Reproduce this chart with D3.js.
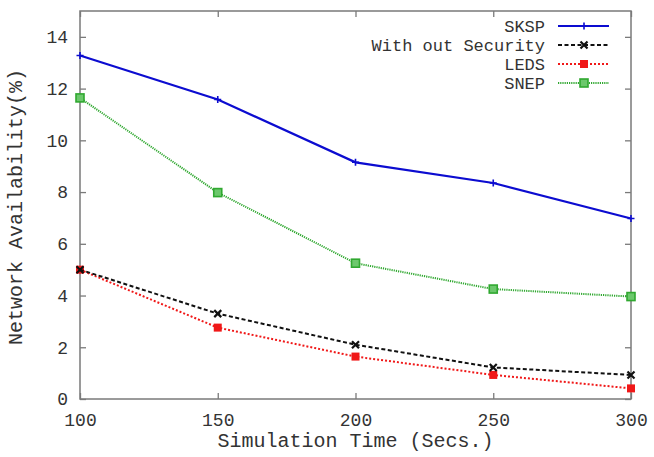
<!DOCTYPE html>
<html>
<head>
<meta charset="utf-8">
<script src="https://cdn.jsdelivr.net/npm/d3@7"></script>
<style>
  html, body { margin: 0; padding: 0; background: #fff; }
  svg { display: block; }
  text { font-family: "Liberation Mono", "DejaVu Sans Mono", monospace; fill: #333; }
</style>
</head>
<body>
<svg id="chart" width="654" height="457"></svg>
<script>
// Simulation times (x) and network availability (%) per scheme
const times = [100, 150, 200, 250, 300];
const sksp = [13.28, 11.58, 9.15, 8.35, 6.98];
const withoutSecurity = [5.0, 3.3, 2.1, 1.22, 0.93];
const leds = [5.0, 2.76, 1.64, 0.93, 0.41];
const snep = [11.64, 7.98, 5.25, 4.25, 3.96];
const xTicks = [100, 150, 200, 250, 300];
const yTicks = [0, 2, 4, 6, 8, 10, 12, 14];

const series = [
  { name: "SKSP", values: sksp, color: "#0c0cd0", width: 2.2, dash: null, marker: "plus" },
  { name: "With out Security", values: withoutSecurity, color: "#111", width: 2, dash: "4,2.5", marker: "cross" },
  { name: "LEDS", values: leds, color: "#f01818", width: 2, dash: "2,2", marker: "fillsq" },
  { name: "SNEP", values: snep, color: "#30a830", width: 2, dash: "1.2,1", marker: "opensq" }
];

const svg = d3.select("#chart");
const m = { left: 80, right: 631, top: 11, bottom: 399 };

const x = d3.scaleLinear().domain([100, 300]).range([m.left, m.right]);
const y = d3.scaleLinear().domain([0, 15]).range([m.bottom, m.top]);

// Frame
svg.append("rect")
  .attr("x", m.left).attr("y", m.top)
  .attr("width", m.right - m.left).attr("height", m.bottom - m.top)
  .attr("fill", "none").attr("stroke", "#7a7a7a").attr("stroke-width", 1.5);

const tickLen = 6;
// Bottom axis: inward ticks, labels below
const xAxis = d3.axisBottom(x).tickValues(xTicks).tickSize(-tickLen).tickPadding(14).tickFormat(d3.format("d"));
const gx = svg.append("g").attr("transform", `translate(0,${m.bottom})`).call(xAxis);
// Mirrored top ticks
const gxt = svg.append("g").attr("transform", `translate(0,${m.top})`)
  .call(d3.axisTop(x).tickValues(xTicks).tickSize(-tickLen).tickFormat(""));
// Left axis
const yAxis = d3.axisLeft(y).tickValues(yTicks).tickSize(-tickLen).tickPadding(12).tickFormat(d3.format("d"));
const gy = svg.append("g").attr("transform", `translate(${m.left},0)`).call(yAxis);
// Mirrored right ticks
const gyr = svg.append("g").attr("transform", `translate(${m.right},0)`)
  .call(d3.axisRight(y).tickValues(yTicks).tickSize(-tickLen).tickFormat(""));

[gx, gxt, gy, gyr].forEach(g => {
  g.select(".domain").remove();
  g.selectAll(".tick line").attr("stroke", "#7a7a7a").attr("stroke-width", 1.3);
  g.selectAll(".tick text").attr("font-size", 18).attr("fill", "#333")
    .style("font-family", "'Liberation Mono', monospace");
});

// Axis titles
svg.append("text")
  .attr("x", (m.left + m.right) / 2).attr("y", 447)
  .attr("text-anchor", "middle").attr("font-size", 20)
  .text("Simulation Time (Secs.)");
svg.append("text")
  .attr("transform", `translate(22,207) rotate(-90)`)
  .attr("text-anchor", "middle").attr("font-size", 20)
  .text("Network Availability(%)");

function drawMarker(g, type, cx, cy, color) {
  if (type === "plus") {
    g.append("path").attr("d", `M${cx - 3.5},${cy}H${cx + 3.5}M${cx},${cy - 3.5}V${cy + 3.5}`)
      .attr("stroke", color).attr("stroke-width", 1.6).attr("fill", "none");
  } else if (type === "cross") {
    g.append("path").attr("d", `M${cx - 3.5},${cy - 3.5}L${cx + 3.5},${cy + 3.5}M${cx - 3.5},${cy + 3.5}L${cx + 3.5},${cy - 3.5}`)
      .attr("stroke", color).attr("stroke-width", 2.2).attr("fill", "none");
  } else if (type === "fillsq") {
    g.append("rect").attr("x", cx - 4).attr("y", cy - 4).attr("width", 8).attr("height", 8)
      .attr("fill", color);
  } else if (type === "opensq") {
    g.append("rect").attr("x", cx - 4).attr("y", cy - 4).attr("width", 8).attr("height", 8)
      .attr("fill", "#6cc86c").attr("stroke", color).attr("stroke-width", 1.6);
  }
}

const line = d3.line().x(d => x(d[0])).y(d => y(d[1]));

// Draw in back-to-front order so SKSP sits on top
[...series].reverse().forEach(s => {
  const pts = times.map((t, i) => [t, s.values[i]]);
  const g = svg.append("g");
  g.append("path").datum(pts)
    .attr("d", line).attr("fill", "none")
    .attr("stroke", s.color).attr("stroke-width", s.width)
    .attr("stroke-dasharray", s.dash);
  pts.forEach(p => drawMarker(g, s.marker, x(p[0]), y(p[1]), s.color));
});

// Legend
const legendRows = [26, 45, 64, 83];
series.forEach((s, i) => {
  const ly = legendRows[i];
  svg.append("text")
    .attr("x", 545).attr("y", ly + 6)
    .attr("text-anchor", "end").attr("font-size", 17)
    .text(s.name);
  const g = svg.append("g");
  g.append("line").attr("x1", 558).attr("x2", 609).attr("y1", ly).attr("y2", ly)
    .attr("stroke", s.color).attr("stroke-width", s.width)
    .attr("stroke-dasharray", s.dash);
  drawMarker(g, s.marker, 584, ly, s.color);
});
</script>
</body>
</html>
